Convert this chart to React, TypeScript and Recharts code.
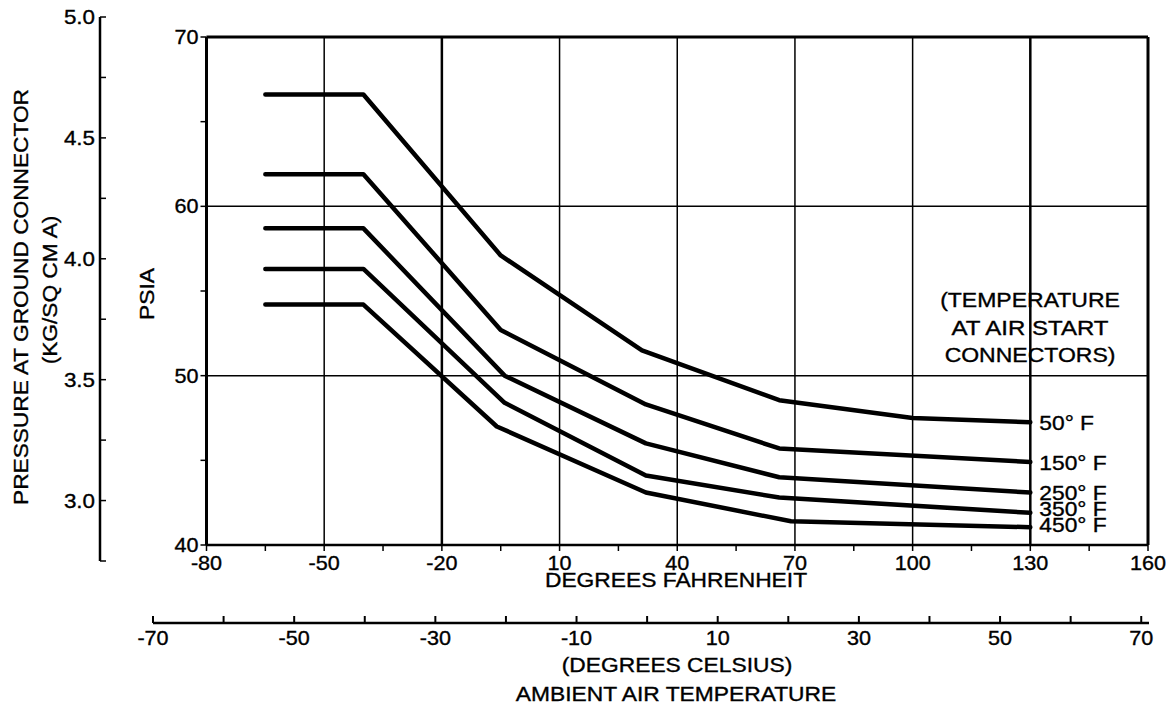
import React from 'react';
import { LineChart, Line, XAxis, YAxis, ReferenceLine, LabelList } from 'recharts';

// ---- data ----
const seriesNames = ['50° F', '150° F', '250° F', '350° F', '450° F'];
const temps50 = [-65, -40, -5, 31, 66, 100, 130];
const psi50 = [66.6, 66.6, 57.1, 51.5, 48.55, 47.5, 47.25];
const temps150 = [-65, -40, -5, 32, 66, 130];
const psi150 = [61.9, 61.9, 52.7, 48.3, 45.7, 44.9];
const temps250 = [-65, -40, -4, 32, 66, 130];
const psi250 = [58.7, 58.7, 50.0, 46.0, 44.0, 43.1];
const temps350 = [-65, -40, -4, 32, 66, 130];
const psi350 = [56.3, 56.3, 48.4, 44.1, 42.8, 41.9];
const temps450 = [-65, -40, -6, 32, 69, 130];
const psi450 = [54.2, 54.2, 47.0, 43.1, 41.4, 41.05];

const fTicks = [-80, -65, -50, -35, -20, -5, 10, 25, 40, 55, 70, 85, 100, 115, 130, 145, 160];
const psiTicks = [40, 45, 50, 55, 60, 65, 70];
const kgTicks = [2.75, 3.0, 3.25, 3.5, 3.75, 4.0, 4.25, 4.5, 4.75, 5.0];
const cTicks = [-70, -60, -50, -40, -30, -20, -10, 0, 10, 20, 30, 40, 50, 60, 70];
const gridF = [-50, -20, 10, 40, 70, 100, 130];
const boldGridF = [-20, 130];
const gridPsi = [50, 60];
const noteLines = ['(TEMPERATURE', 'AT AIR START', 'CONNECTORS)'];

const build = (t: number[], p: number[]) => t.map((v, i) => ({ t: v, p: p[i] }));
const seriesData = [
  build(temps50, psi50),
  build(temps150, psi150),
  build(temps250, psi250),
  build(temps350, psi350),
  build(temps450, psi450),
];
const labelDy = [1, 1, 0, -4, -2];

const FONT = '"Liberation Sans", Arial, Helvetica, sans-serif';
const TS = 0.35; // text stroke to thicken glyphs

function Stretch({ x, y, text, anchor = 'middle', sx = 1.14, rot = 0, size = 20 }: any) {
  return (
    <text
      transform={`translate(${x},${y}) rotate(${rot}) scale(${sx},1)`}
      textAnchor={anchor}
      fontFamily={FONT}
      fontSize={size}
      fill="#000"
      stroke="#000"
      strokeWidth={TS}
    >
      {text}
    </text>
  );
}

const DSX = 1.08; // digit stretch

const XTick = (props: any) => {
  const { x, y, payload } = props;
  const v = payload.value;
  if ((v + 80) % 30 !== 0) return <g />;
  return <Stretch x={x} y={y + 17} text={String(v)} sx={DSX} />;
};

const YTick = (props: any) => {
  const { x, y, payload } = props;
  const v = payload.value;
  if (v % 10 !== 0) return <g />;
  return <Stretch x={x} y={y + 7} text={String(v)} anchor="end" sx={DSX} />;
};

const KgTick = (props: any) => {
  const { x, y, payload } = props;
  const v = payload.value;
  const labeled = Math.abs(v * 2 - Math.round(v * 2)) < 1e-6;
  return (
    <g>
      <line x1={x} y1={y} x2={x + 6} y2={y} stroke="#000" strokeWidth={1.5} />
      {labeled ? <Stretch x={x - 5} y={y + 7} text={v.toFixed(1)} anchor="end" sx={1.12} /> : null}
    </g>
  );
};

const CTick = (props: any) => {
  const { x, y, payload } = props;
  const v = payload.value;
  const labeled = (v + 70) % 20 === 0;
  return (
    <g>
      <line x1={x} y1={y} x2={x} y2={y - 7} stroke="#000" strokeWidth={2} />
      {labeled ? <Stretch x={x} y={y + 22} text={String(v)} sx={DSX} /> : null}
    </g>
  );
};

const makeEndLabel = (name: string, last: number, dy: number) => (props: any) => {
  const { x, y, index } = props;
  if (index !== last) return <g />;
  return <Stretch x={x + 9} y={y + 7 + dy} text={name} anchor="start" sx={1.14} />;
};

export default function App() {
  return (
    <div style={{ position: 'absolute', left: 0, top: 0, width: 1175, height: 708, background: '#fff' }}>
      {/* kg/cm2 axis */}
      <div style={{ position: 'absolute', left: 0, top: 0 }}>
        <LineChart width={120} height={708} data={kgTicks.map((v) => ({ v }))} margin={{ top: 17, right: 0, bottom: 147, left: 0 }}>
          <XAxis hide dataKey="v" />
          <YAxis
            dataKey="v"
            type="number"
            domain={[2.75, 5.0]}
            ticks={kgTicks}
            width={100}
            tickSize={0}
            tickMargin={0}
            tickLine={false}
            interval={0}
            axisLine={{ stroke: '#000', strokeWidth: 2.5 }}
            tick={KgTick}
            allowDataOverflow
          />
        </LineChart>
      </div>
      {/* celsius axis */}
      <div style={{ position: 'absolute', left: 0, top: 600 }}>
        <LineChart width={1175} height={108} data={cTicks.map((c) => ({ c }))} margin={{ top: 0, right: 26, bottom: 0, left: 153 }}>
          <XAxis
            dataKey="c"
            type="number"
            domain={[-70, 71.1]}
            ticks={cTicks}
            height={85}
            tickSize={0}
            tickMargin={0}
            tickLine={false}
            interval={0}
            axisLine={{ stroke: '#000', strokeWidth: 2.5 }}
            tick={CTick}
            allowDataOverflow
          />
        </LineChart>
      </div>
      {/* main chart */}
      <div style={{ position: 'absolute', left: 0, top: 0 }}>
        <LineChart width={1175} height={708} margin={{ top: 37, right: 27, bottom: 133, left: 146.5 }}>
          <XAxis
            dataKey="t"
            type="number"
            domain={[-80, 160]}
            ticks={fTicks}
            interval={0}
            height={30}
            tickSize={6}
            tickMargin={2}
            tickLine={{ stroke: '#000', strokeWidth: 1.5 }}
            axisLine={{ stroke: '#000', strokeWidth: 2.5 }}
            tick={XTick}
            allowDataOverflow
          />
          <YAxis
            type="number"
            domain={[40, 70]}
            ticks={psiTicks}
            interval={0}
            width={60}
            tickSize={6}
            tickMargin={2}
            tickLine={{ stroke: '#000', strokeWidth: 1.5 }}
            axisLine={{ stroke: '#000', strokeWidth: 3 }}
            tick={YTick}
            allowDataOverflow
          />
          {gridF.map((g) => (
            <ReferenceLine key={'vx' + g} x={g} stroke="#000" strokeWidth={boldGridF.includes(g) ? 2.5 : 1.5} />
          ))}
          {gridPsi.map((g) => (
            <ReferenceLine key={'hy' + g} y={g} stroke="#000" strokeWidth={1.5} />
          ))}
          <ReferenceLine y={70} stroke="#000" strokeWidth={3} />
          <ReferenceLine x={160} stroke="#000" strokeWidth={3} />
          {seriesData.map((d, i) => (
            <Line
              key={seriesNames[i]}
              data={d}
              dataKey="p"
              name={seriesNames[i]}
              stroke="#000"
              strokeWidth={4.5}
              strokeLinecap="round"
              strokeLinejoin="round"
              dot={false}
              isAnimationActive={false}
            >
              <LabelList dataKey="p" content={makeEndLabel(seriesNames[i], d.length - 1, labelDy[i])} />
            </Line>
          ))}
        </LineChart>
      </div>
      {/* titles */}
      <svg width={1175} height={708} style={{ position: 'absolute', left: 0, top: 0, pointerEvents: 'none' }}>
        <Stretch x={28} y={297} rot={-90} sx={1.135} text="PRESSURE AT GROUND CONNECTOR" />
        <Stretch x={57} y={290} rot={-90} sx={1.135} text="(KG/SQ CM A)" />
        <Stretch x={154} y={294} rot={-90} sx={1.14} text="PSIA" />
        <Stretch x={676} y={587} text="DEGREES FAHRENHEIT" />
        <Stretch x={677} y={672} text="(DEGREES CELSIUS)" />
        <Stretch x={676} y={701} text="AMBIENT AIR TEMPERATURE" />
        {noteLines.map((l, i) => (
          <Stretch key={l} x={1030} y={307 + i * 27.5} text={l} sx={i === 1 ? 1.2 : 1.15} />
        ))}
      </svg>
    </div>
  );
}
